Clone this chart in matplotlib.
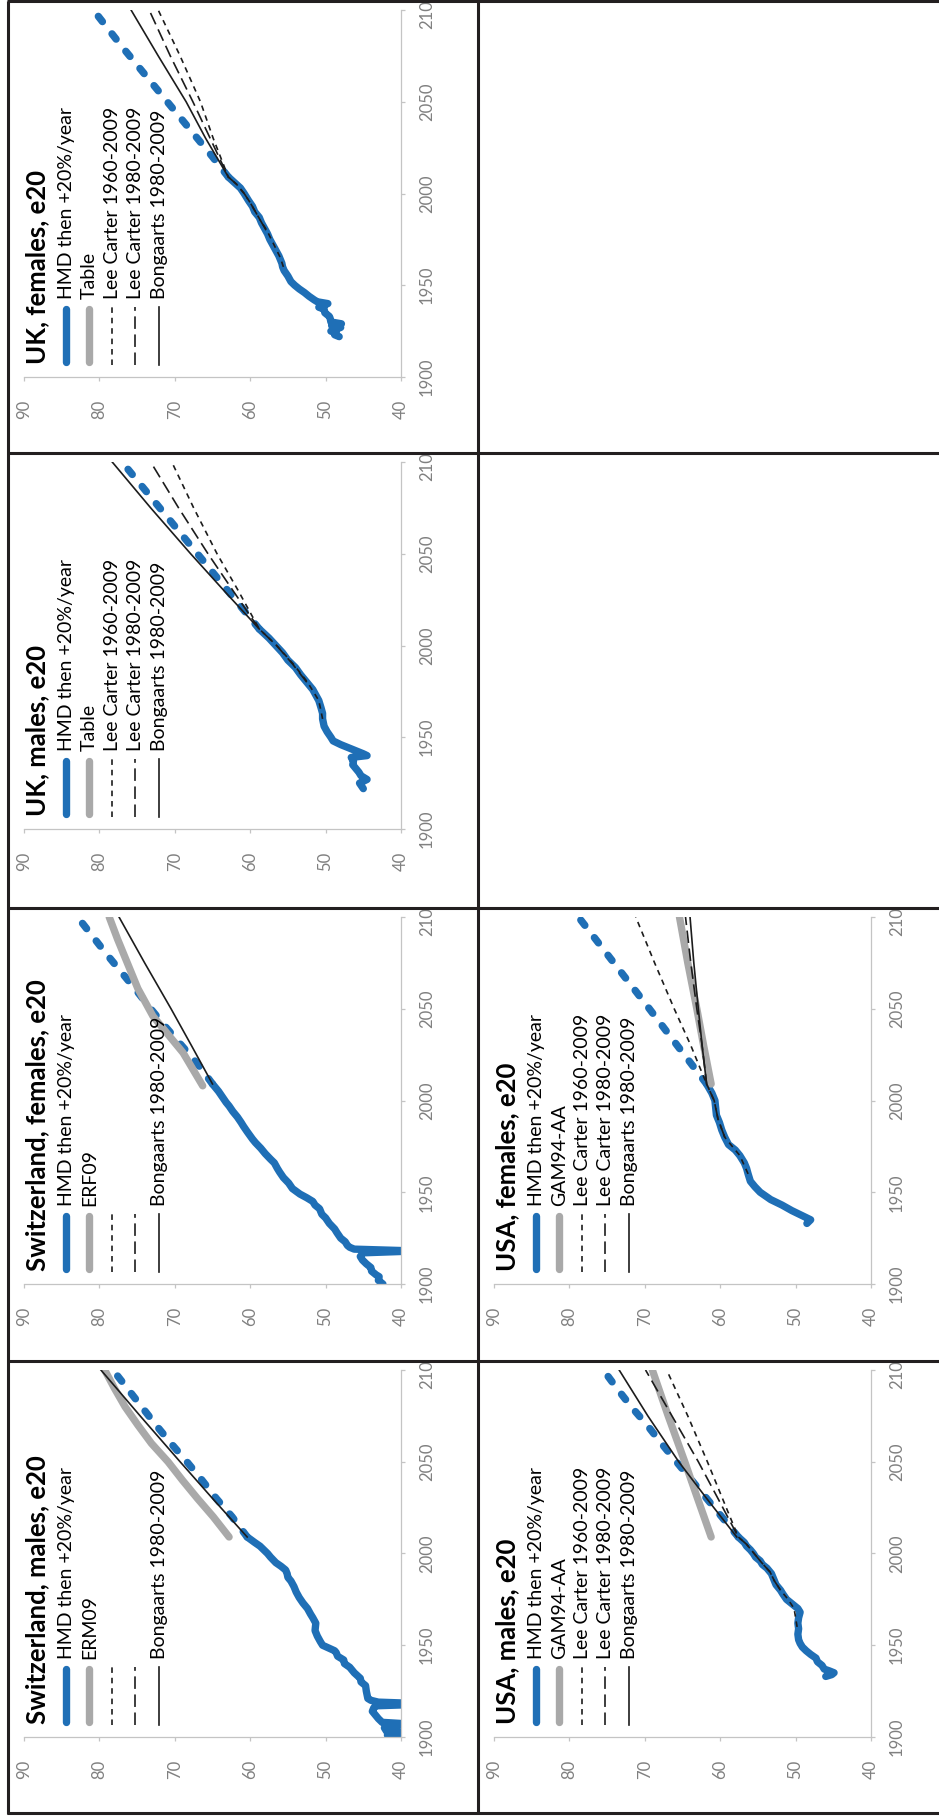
import matplotlib
matplotlib.use("Agg")
import matplotlib.pyplot as plt
from matplotlib.lines import Line2D
from matplotlib.transforms import Bbox, TransformedBbox

plt.rcParams["font.family"] = ["Lato", "DejaVu Sans"]
plt.rcParams["lines.scale_dashes"] = False

W, H = 939, 1818
BLUE = "#1f6fb6"
GREY = "#a9a9a9"
INK = "#1c1c1c"
AXIS = "#c4c4c4"
LABEL = "#808080"

YEAR_TICKS = [1900, 1950, 2000, 2050, 2100]
VALUE_TICKS = [90, 80, 70, 60, 50, 40]

# ---- Switzerland, males ----
sui_m_hmd_years = [1900, 1901, 1902, 1903, 1905, 1906, 1907, 1908, 1910, 1912, 1914, 1916, 1917,
                   1918, 1919, 1920, 1921, 1925, 1928, 1930, 1932, 1935, 1938, 1940, 1942, 1944,
                   1946, 1947, 1950, 1952, 1955, 1958, 1962, 1965, 1967, 1970, 1973, 1976, 1979,
                   1982, 1985, 1987, 1989, 1991, 1993, 1995, 1998, 2000, 2002, 2004, 2006, 2009]
sui_m_hmd_vals = [41.3, 41.8, 38.5, 41.9, 42.2, 41.8, 38.5, 42.5, 43.0, 43.4, 43.8, 43.6, 43.3,
                  36.0, 43.0, 44.0, 44.4, 44.6, 44.7, 45.3, 45.4, 46.2, 46.8, 47.5, 47.6, 48.4,
                  48.6, 48.8, 50.4, 50.7, 51.1, 51.4, 51.3, 51.7, 52.0, 52.4, 53.0, 53.5, 53.9,
                  54.2, 54.6, 55.0, 55.1, 55.3, 55.9, 56.6, 57.3, 57.7, 58.2, 58.7, 59.4, 60.4]
sui_m_proj_years = [2009, 2020, 2030, 2040, 2050, 2060, 2070, 2080, 2090, 2100]
sui_m_proj_vals = [60.4, 62.4, 64.5, 66.4, 68.4, 70.5, 72.5, 74.4, 76.3, 78.2]
sui_m_table_years = [2009, 2020, 2030, 2040, 2050, 2060, 2070, 2080, 2090, 2100]
sui_m_table_vals = [62.8, 64.9, 67.0, 69.0, 70.9, 73.1, 74.9, 76.6, 78.0, 79.3]
sui_m_bong_years = [2009, 2030, 2050, 2075, 2100]
sui_m_bong_vals = [60.4, 65.0, 69.3, 74.6, 79.8]

# ---- Switzerland, females ----
sui_f_hmd_years = [1900, 1902, 1904, 1905, 1907, 1909, 1911, 1913, 1915, 1917, 1918, 1919, 1920,
                   1921, 1923, 1925, 1928, 1930, 1933, 1936, 1938, 1941, 1943, 1945, 1947, 1949,
                   1952, 1955, 1958, 1961, 1963, 1966, 1968, 1971, 1974, 1977, 1979, 1983, 1986,
                   1988, 1991, 1994, 1997, 1999, 2002, 2005, 2009]
sui_f_hmd_vals = [42.4, 43.0, 42.9, 43.3, 43.9, 44.0, 44.6, 45.1, 45.4, 45.0, 38.0, 46.2, 46.8,
                  47.1, 47.4, 48.0, 48.5, 48.8, 49.5, 50.0, 50.5, 50.8, 51.4, 51.7, 52.5, 53.4,
                  54.4, 54.9, 55.6, 56.1, 56.4, 56.8, 57.3, 58.0, 58.6, 59.3, 59.7, 60.4, 60.9,
                  61.2, 61.7, 62.3, 62.8, 63.2, 63.7, 64.2, 65.0]
sui_f_proj_years = [2009, 2020, 2030, 2040, 2050, 2060, 2070, 2080, 2090, 2100]
sui_f_proj_vals = [65.0, 67.0, 69.1, 71.2, 73.2, 75.1, 77.1, 79.1, 81.0, 82.9]
sui_f_table_years = [2008, 2026, 2046, 2061, 2070, 2088, 2100]
sui_f_table_vals = [66.3, 68.9, 72.9, 74.9, 75.8, 77.6, 78.7]
sui_f_bong_years = [2009, 2030, 2050, 2075, 2100]
sui_f_bong_vals = [65.0, 67.8, 70.5, 74.0, 77.4]

# ---- UK, males ----
uk_m_hmd_years = [1922, 1925, 1927, 1929, 1931, 1933, 1935, 1937, 1939, 1940, 1941, 1944, 1946,
                  1948, 1950, 1953, 1956, 1960, 1963, 1966, 1970, 1973, 1976, 1980, 1984, 1988,
                  1992, 1996, 2000, 2004, 2009]
uk_m_hmd_vals = [45.0, 45.5, 44.5, 45.3, 45.6, 46.0, 46.4, 46.3, 46.6, 44.5, 45.0, 46.8, 48.0,
                 49.0, 49.3, 49.8, 50.2, 50.4, 50.4, 50.6, 50.9, 51.3, 51.7, 52.5, 53.3, 54.0,
                 55.0, 55.7, 56.6, 57.5, 58.8]
uk_m_proj_years = [2009, 2030, 2050, 2075, 2100]
uk_m_proj_vals = [58.8, 63.0, 67.0, 72.0, 77.0]
uk_m_lc60_years = [1960, 1970, 1980, 1990, 2000, 2009, 2030, 2050, 2075, 2100]
uk_m_lc60_vals = [50.4, 50.9, 52.4, 54.3, 56.5, 58.8, 61.6, 64.4, 67.5, 70.4]
uk_m_lc80_years = [1980, 1990, 2000, 2009, 2030, 2050, 2075, 2100]
uk_m_lc80_vals = [52.5, 54.4, 56.5, 58.8, 62.3, 65.6, 69.5, 73.2]
uk_m_bong_years = [2009, 2030, 2050, 2075, 2100]
uk_m_bong_vals = [58.8, 63.5, 67.9, 73.2, 78.3]

# ---- UK, females ----
uk_f_hmd_years = [1922, 1923, 1924, 1925, 1927, 1928, 1929, 1930, 1932, 1933, 1935, 1937, 1938,
                  1940, 1941, 1942, 1944, 1946, 1948, 1950, 1952, 1955, 1958, 1960, 1962, 1964,
                  1966, 1969, 1972, 1975, 1978, 1981, 1984, 1987, 1990, 1993, 1996, 2000, 2003,
                  2006, 2009]
uk_f_hmd_vals = [48.2, 48.8, 48.6, 49.3, 48.0, 49.2, 47.9, 49.3, 49.4, 49.5, 50.1, 50.2, 50.9,
                 49.7, 51.1, 51.5, 52.2, 52.8, 53.5, 54.1, 54.6, 55.0, 55.5, 55.7, 55.8, 56.0,
                 56.2, 56.6, 57.0, 57.4, 57.7, 58.1, 58.5, 58.8, 59.4, 59.7, 60.2, 60.8, 61.3,
                 62.1, 62.9]
uk_f_proj_years = [2009, 2020, 2030, 2040, 2050, 2060, 2070, 2080, 2090, 2100]
uk_f_proj_vals = [62.9, 65.0, 67.0, 69.0, 71.0, 73.0, 75.0, 77.0, 78.9, 80.8]
uk_f_lc60_years = [1960, 1965, 1970, 1975, 1980, 1985, 1990, 1995, 2000, 2005, 2009, 2030,
                   2050, 2075, 2100]
uk_f_lc60_vals = [55.6, 56.0, 56.6, 57.2, 57.8, 58.6, 59.3, 60.0, 60.8, 61.8, 62.9, 64.9,
                  66.6, 69.3, 72.2]
uk_f_lc80_years = [1980, 1985, 1990, 1995, 2000, 2005, 2009, 2030, 2050, 2075, 2100]
uk_f_lc80_vals = [57.9, 58.6, 59.3, 60.0, 60.8, 61.8, 62.9, 65.3, 67.6, 70.6, 73.4]
uk_f_bong_years = [2009, 2030, 2050, 2075, 2100]
uk_f_bong_vals = [62.9, 65.9, 68.5, 72.2, 75.8]

# ---- USA, males ----
usa_m_hmd_years = [1933, 1934, 1935, 1936, 1937, 1939, 1941, 1943, 1945, 1947, 1949, 1951, 1953,
                   1956, 1959, 1962, 1965, 1968, 1970, 1972, 1975, 1978, 1980, 1983, 1986, 1989,
                   1992, 1994, 1996, 1998, 2000, 2002, 2004, 2006, 2009]
usa_m_hmd_vals = [46.0, 45.2, 44.9, 45.5, 46.2, 46.5, 47.1, 47.3, 48.0, 48.6, 49.1, 49.4, 49.6,
                  49.7, 49.6, 49.7, 49.6, 49.4, 49.7, 50.3, 51.2, 51.7, 52.0, 52.6, 52.9, 53.2,
                  53.8, 54.4, 54.7, 55.3, 55.6, 56.0, 56.5, 56.8, 57.6]
usa_m_proj_years = [2009, 2020, 2030, 2040, 2050, 2060, 2070, 2080, 2090, 2100]
usa_m_proj_vals = [57.6, 59.8, 61.8, 63.8, 65.8, 67.8, 69.7, 71.8, 73.7, 75.5]
usa_m_table_years = [2009, 2030, 2050, 2075, 2100]
usa_m_table_vals = [61.2, 63.0, 64.7, 66.9, 69.0]
usa_m_lc60_years = [1960, 1965, 1970, 1975, 1980, 1985, 1990, 1995, 2000, 2005, 2009, 2025,
                    2050, 2075, 2100]
usa_m_lc60_vals = [49.8, 50.0, 50.2, 51.0, 52.0, 52.8, 53.4, 54.5, 55.5, 56.5, 57.6, 59.2,
                   61.7, 64.3, 67.1]
usa_m_lc80_years = [1980, 1985, 1990, 1995, 2000, 2005, 2009, 2030, 2050, 2075, 2100]
usa_m_lc80_vals = [52.0, 52.8, 53.4, 54.5, 55.5, 56.5, 57.6, 60.3, 62.9, 66.4, 69.9]
usa_m_bong_years = [2009, 2030, 2050, 2075, 2100]
usa_m_bong_vals = [57.8, 61.8, 65.5, 69.6, 73.4]

# ---- USA, females ----
usa_f_hmd_years = [1933, 1935, 1937, 1940, 1943, 1946, 1950, 1953, 1956, 1960, 1963, 1966, 1970,
                   1973, 1976, 1980, 1984, 1988, 1992, 1996, 2000, 2004, 2009]
usa_f_hmd_vals = [48.5, 48.0, 49.0, 50.5, 51.8, 53.3, 54.7, 55.4, 56.0, 56.3, 56.5, 56.8, 57.4,
                  58.0, 58.9, 59.4, 59.8, 60.1, 60.5, 60.6, 60.7, 61.1, 61.8]
usa_f_proj_years = [2009, 2030, 2050, 2075, 2100]
usa_f_proj_vals = [61.8, 65.7, 69.4, 74.1, 78.8]
usa_f_table_years = [2009, 2030, 2050, 2075, 2100]
usa_f_table_vals = [61.2, 62.2, 63.1, 64.3, 65.4]
usa_f_lc60_years = [1960, 1970, 1980, 1990, 2000, 2009, 2030, 2050, 2075, 2100]
usa_f_lc60_vals = [56.3, 57.4, 59.4, 60.3, 60.8, 61.8, 63.9, 66.1, 68.7, 71.2]
usa_f_lc80_years = [1980, 1990, 2000, 2009, 2030, 2050, 2075, 2100]
usa_f_lc80_vals = [59.4, 60.3, 60.8, 61.8, 62.4, 63.1, 63.9, 64.6]
usa_f_bong_years = [2009, 2030, 2050, 2075, 2100]
usa_f_bong_vals = [61.8, 62.4, 62.9, 63.5, 64.0]

LEGEND_X = [58, 81, 104, 127, 151]


def fx(x):
    return x / W


def fy(y):
    return 1 - y / H


fig = plt.figure(figsize=(W / 100, H / 100), dpi=100)


def draw_panel(px0, py0, title, table_label, lc_text, hmd, proj, table=None,
               lc60=None, lc80=None, bong=None):
    ax = fig.add_axes([fx(px0 + 16), fy(py0 + 376), 377 / W, 367 / H])
    ax.patch.set_visible(False)
    ax.set_xlim(90, 40)
    ax.set_ylim(1900, 2100)

    # series (value on x, year on y)
    ax.plot(hmd[1], hmd[0], color=BLUE, lw=5.3, solid_joinstyle="round",
            solid_capstyle="round", zorder=2)
    ax.plot(proj[1], proj[0], color=BLUE, lw=5.3, dashes=(4.8, 11.2),
            dash_capstyle="round", zorder=2)
    if table is not None:
        ax.plot(table[1], table[0], color=GREY, lw=5.3, solid_capstyle="round", zorder=3)
    if lc60 is not None:
        ax.plot(lc60[1], lc60[0], color=INK, lw=1.2, dashes=(4, 3.5), zorder=4)
    if lc80 is not None:
        ax.plot(lc80[1], lc80[0], color=INK, lw=1.2, dashes=(9, 4), zorder=4)
    if bong is not None:
        ax.plot(bong[1], bong[0], color=INK, lw=1.2, zorder=4)

    for s in ["left", "top"]:
        ax.spines[s].set_visible(False)
    for s in ["right", "bottom"]:
        ax.spines[s].set_color(AXIS)
        ax.spines[s].set_linewidth(0.9)

    ax.set_xticks(VALUE_TICKS)
    ax.set_xticklabels([str(v) for v in VALUE_TICKS])
    ax.yaxis.tick_right()
    ax.set_yticks(YEAR_TICKS)
    ax.set_yticklabels([str(y) for y in YEAR_TICKS])
    ax.tick_params(axis="x", direction="out", length=3, width=0.9, color=AXIS,
                   labelcolor=LABEL, labelsize=12, labelrotation=90, pad=13.5)
    ax.tick_params(axis="y", direction="out", length=3, width=0.9, color=AXIS,
                   labelcolor=LABEL, labelsize=12, labelrotation=90, pad=10)

    # the 2100 label is cut by the cell border, as in the source
    clip = TransformedBbox(Bbox([[fx(px0), fy(py0 + 452)], [fx(px0 + 470), fy(py0)]]),
                           fig.transFigure)
    for t in ax.yaxis.get_major_ticks():
        t.label2.set_verticalalignment("center")
        t.label2.set_clip_box(clip)
        t.label2.set_clip_on(True)

    # title
    fig.text(fx(px0 + 37), fy(py0 + 363), title, rotation=90, rotation_mode="anchor",
             ha="left", va="baseline", fontsize=18.5, fontweight="bold", color="black")

    # legend drawn by hand (rotated)
    labels = ["HMD then +20%/year", table_label,
              "Lee Carter 1960-2009" if lc_text else "",
              "Lee Carter 1980-2009" if lc_text else "",
              "Bongaarts 1980-2009"]
    styles = [dict(color=BLUE, lw=5.3, solid_capstyle="round"),
              dict(color=GREY, lw=5.3, solid_capstyle="round"),
              dict(color=INK, lw=1.2, dashes=(4, 3.5)),
              dict(color=INK, lw=1.2, dashes=(9, 4)),
              dict(color=INK, lw=1.2)]
    for lx, lab, st in zip(LEGEND_X, labels, styles):
        x = px0 + lx
        if st["lw"] > 2:
            y0, y1 = py0 + 361, py0 + 308
        else:
            y0, y1 = py0 + 364, py0 + 306
        fig.add_artist(Line2D([fx(x), fx(x)], [fy(y0), fy(y1)],
                              transform=fig.transFigure, **st))
        if lab:
            fig.text(fx(x + 6), fy(py0 + 298), lab, rotation=90, rotation_mode="anchor",
                     ha="left", va="baseline", fontsize=14, color="black")
    return ax


draw_panel(8, 1361, "Switzerland, males, e20", "ERM09", False,
           (sui_m_hmd_years, sui_m_hmd_vals), (sui_m_proj_years, sui_m_proj_vals),
           table=(sui_m_table_years, sui_m_table_vals),
           bong=(sui_m_bong_years, sui_m_bong_vals))
draw_panel(8, 908, "Switzerland, females, e20", "ERF09", False,
           (sui_f_hmd_years, sui_f_hmd_vals), (sui_f_proj_years, sui_f_proj_vals),
           table=(sui_f_table_years, sui_f_table_vals),
           bong=(sui_f_bong_years, sui_f_bong_vals))
draw_panel(8, 453, "UK, males, e20", "Table", True,
           (uk_m_hmd_years, uk_m_hmd_vals), (uk_m_proj_years, uk_m_proj_vals),
           lc60=(uk_m_lc60_years, uk_m_lc60_vals), lc80=(uk_m_lc80_years, uk_m_lc80_vals),
           bong=(uk_m_bong_years, uk_m_bong_vals))
draw_panel(8, 1, "UK, females, e20", "Table", True,
           (uk_f_hmd_years, uk_f_hmd_vals), (uk_f_proj_years, uk_f_proj_vals),
           lc60=(uk_f_lc60_years, uk_f_lc60_vals), lc80=(uk_f_lc80_years, uk_f_lc80_vals),
           bong=(uk_f_bong_years, uk_f_bong_vals))
draw_panel(478, 1361, "USA, males, e20", "GAM94-AA", True,
           (usa_m_hmd_years, usa_m_hmd_vals), (usa_m_proj_years, usa_m_proj_vals),
           table=(usa_m_table_years, usa_m_table_vals),
           lc60=(usa_m_lc60_years, usa_m_lc60_vals), lc80=(usa_m_lc80_years, usa_m_lc80_vals),
           bong=(usa_m_bong_years, usa_m_bong_vals))
draw_panel(478, 908, "USA, females, e20", "GAM94-AA", True,
           (usa_f_hmd_years, usa_f_hmd_vals), (usa_f_proj_years, usa_f_proj_vals),
           table=(usa_f_table_years, usa_f_table_vals),
           lc60=(usa_f_lc60_years, usa_f_lc60_vals), lc80=(usa_f_lc80_years, usa_f_lc80_vals),
           bong=(usa_f_bong_years, usa_f_bong_vals))

# cell borders
border = dict(color="#231f20", lw=2.2, transform=fig.transFigure, solid_capstyle="butt")
for x in [8, 478]:
    fig.add_artist(Line2D([fx(x), fx(x)], [fy(1), fy(1814)], **border))
for y in [1, 453, 908, 1361, 1813]:
    fig.add_artist(Line2D([fx(7), fx(W)], [fy(y), fy(y)], **border))

fig.savefig("out.png", dpi=100)
